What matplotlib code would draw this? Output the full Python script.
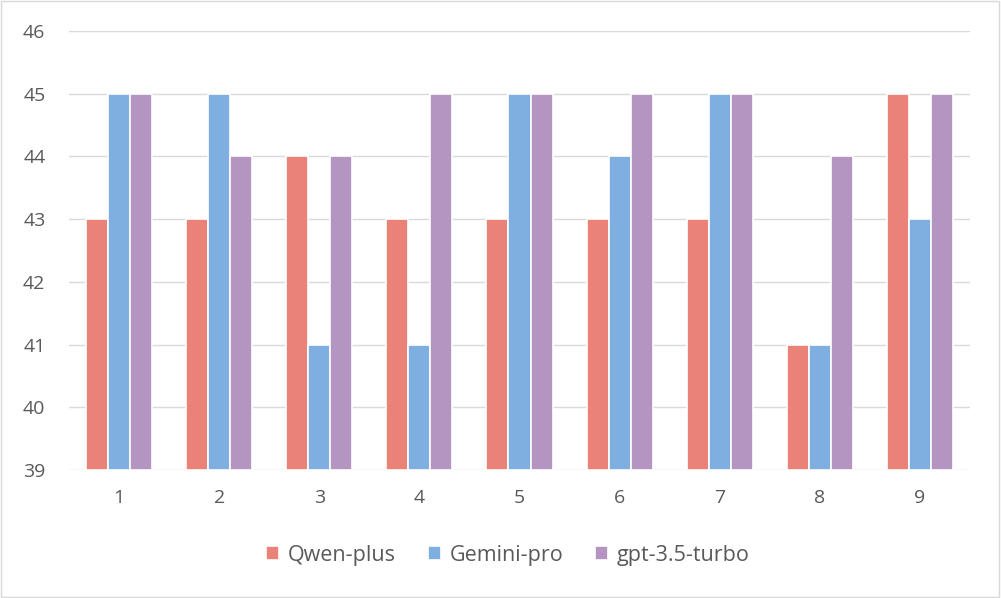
import matplotlib.pyplot as plt
from matplotlib.patches import Rectangle
import numpy as np

categories = ['1', '2', '3', '4', '5', '6', '7', '8', '9']
qwen = [43, 43, 44, 43, 43, 43, 43, 41, 45]
gemini = [45, 45, 41, 41, 45, 44, 45, 41, 43]
gpt = [45, 44, 44, 45, 45, 45, 45, 44, 45]
series_names = ['Qwen-plus', 'Gemini-pro', 'gpt-3.5-turbo']
colors = ['#EB8278', '#7EAFE0', '#B495C1']

plt.rcParams['font.family'] = ['Open Sans', 'DejaVu Sans']
text_color = '#595959'

fig = plt.figure(figsize=(10.01, 5.98), dpi=100)
ax = fig.add_axes([69 / 1001, 1 - 470 / 598, (970 - 69) / 1001, (470 - 31) / 598])

x = np.arange(1, len(categories) + 1)
w = 0.22
base = 39
for i, (vals, name, c) in enumerate(zip([qwen, gemini, gpt], series_names, colors)):
    ax.bar(x + (i - 1) * w, np.array(vals) - base, bottom=base, width=w,
           color=c, edgecolor='white', linewidth=1.2, label=name, zorder=3)

ax.set_xlim(0.5, 9.5)
ax.set_ylim(39, 46)
ax.set_yticks(range(39, 47))
ax.set_xticks(x)
ax.set_xticklabels(categories)
ax.yaxis.grid(True, color='#D9D9D9', linewidth=1, zorder=0)
ax.tick_params(length=0, labelsize=14, colors=text_color)
ax.tick_params(axis='x', pad=14)
ax.tick_params(axis='y', pad=17)
for s in ax.spines.values():
    s.set_visible(False)

handles, labels = ax.get_legend_handles_labels()
leg = fig.legend(handles, labels, loc='center', bbox_to_anchor=(508 / 1001, 1 - 555 / 598),
                 ncol=3, frameon=False, fontsize=15.5, handlelength=0.6, handleheight=0.6,
                 handletextpad=0.4, columnspacing=1.5, labelcolor=text_color)

fig.patches.append(Rectangle((0.001, 0.001), 0.997, 0.997, transform=fig.transFigure,
                             fill=False, edgecolor='#D9D9D9', linewidth=1))

fig.savefig('out.png', dpi=100)
